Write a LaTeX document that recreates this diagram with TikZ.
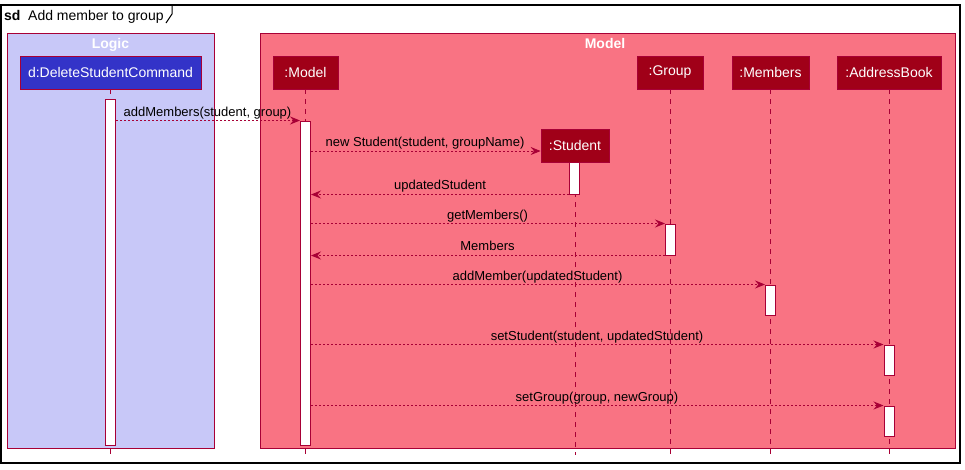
\documentclass[tikz,border=0pt]{standalone}
\usepackage{fontspec}
\setmainfont{Liberation Sans}
\usetikzlibrary{arrows.meta}
\definecolor{crim}{RGB}{168,0,54}
\definecolor{logicfill}{RGB}{200,200,248}
\definecolor{modelfill}{RGB}{249,115,131}
\definecolor{partred}{RGB}{160,0,24}
\definecolor{partblue}{RGB}{51,51,200}
\tikzset{
  grp/.style={draw=crim, line width=1pt},
  grptitle/.style={text=white, font=\fontsize{14}{16}\bfseries\selectfont, anchor=base, inner sep=0pt},
  part/.style={draw=crim, fill=partred, text=white, font=\fontsize{14}{16}\selectfont, minimum height=33pt, inner sep=0pt, line width=0.8pt},
  life/.style={draw=crim, line width=1pt, dash pattern=on 5pt off 5pt},
  act/.style={draw=crim, fill=white, minimum width=10pt, inner sep=0pt, line width=1pt},
  msg/.style={draw=crim, line width=0.8pt, dash pattern=on 2pt off 2pt, -{Stealth[length=10pt,width=8pt,inset=3.5pt]}},
  lbl/.style={font=\fontsize{13}{15}\selectfont, anchor=base, inner sep=0pt, text=black}
}
\begin{document}
\begin{tikzpicture}[x=1pt,y=-1pt]
\useasboundingbox (0,0) rectangle (965,469);
\fill[white] (0,0) rectangle (965,469);
% outer frame
\draw[black, line width=1.5pt] (1,5) rectangle (960,463);
\draw[black, line width=1pt] (172,5) -- (172,14) -- (166,23);
\node[anchor=base west, inner sep=0pt, font=\fontsize{14}{16}\bfseries\selectfont] (sdk) at (4,20) {sd};
\node[anchor=base west, inner sep=0pt, font=\fontsize{14}{16}\selectfont] (sdt) at (28,20) {Add member to group};
% groups
\draw[grp, fill=logicfill] (7,33) rectangle (214,448);
\draw[grp, fill=modelfill] (260,33) rectangle (955,448);
\node[grptitle] (lg) at (110.5,48) {Logic};
\node[grptitle] (md) at (605,48) {Model};
% participants (named, drawn first to get anchors)
\node[part, fill=partblue, minimum width=181pt] (dsc) at (110.5,72.5) {d:DeleteStudentCommand};
\node[part, minimum width=65pt] (mdl) at (305.5,72.5) {:Model};
\node[part, minimum width=68pt] (stu) at (575,145.5) {:Student};
\node[part, minimum width=66pt] (grpp) at (670,72.5) {:Group};
\node[part, minimum width=77pt] (mem) at (770.5,72.5) {:Members};
\node[part, minimum width=104pt] (ab) at (889,72.5) {:AddressBook};
\coordinate (bot) at (0,455);
% lifelines
\draw[life] (dsc.south) -- (dsc.south |- bot);
\draw[life] (mdl.south) -- (mdl.south |- bot);
\draw[life] (stu.south) -- (stu.south |- bot);
\draw[life] (grpp.south) -- (grpp.south |- bot);
\draw[life] (mem.south) -- (mem.south |- bot);
\draw[life] (ab.south) -- (ab.south |- bot);
% activations
\node[act, minimum height=346pt] (a1) at (110.5,272) {};
\node[act, minimum height=324pt] (am) at (305.5,283) {};
\node[act, minimum height=32pt] (sa) at (574.5,178) {};
\node[act, minimum height=31pt] (ga) at (670.5,239.5) {};
\node[act, minimum height=30pt] (ma) at (770.5,300) {};
\node[act, minimum height=30pt] (aa1) at (889,360) {};
\node[act, minimum height=30pt] (aa2) at (889,421) {};
% messages
\draw[msg] (a1.east |- am.north west) -- (am.north west);
\node[lbl] (l1) at (207.5,116.5) {addMembers(student, group)};
\coordinate (ns) at ([yshift=-5.5pt]stu.west);
\draw[msg] (am.east |- ns) -- (ns);
\node[lbl] (l2) at (425,146.5) {new Student(student, groupName)};
\draw[msg] (sa.south west) -- (am.east |- sa.south west);
\node[lbl] (l3) at (440,189.5) {updatedStudent};
\draw[msg] (am.east |- ga.north west) -- (ga.north west);
\node[lbl] (l4) at (487.5,219.5) {getMembers()};
\draw[msg] (ga.south west) -- (am.east |- ga.south west);
\node[lbl] (l5) at (487.5,250.5) {Members};
\draw[msg] (am.east |- ma.north west) -- (ma.north west);
\node[lbl] (l6) at (537.5,280.5) {addMember(updatedStudent)};
\draw[msg] (am.east |- aa1.north west) -- (aa1.north west);
\node[lbl] (l7) at (597,340.5) {setStudent(student, updatedStudent)};
\draw[msg] (am.east |- aa2.north west) -- (aa2.north west);
\node[lbl] (l8) at (597,401.5) {setGroup(group, newGroup)};
\end{tikzpicture}
\end{document}
